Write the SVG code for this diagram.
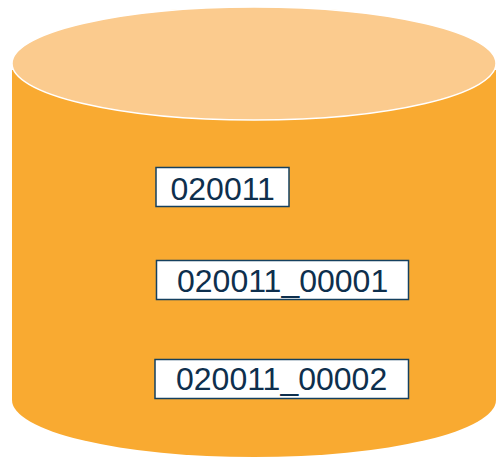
<svg xmlns="http://www.w3.org/2000/svg" width="496" height="458" viewBox="0 0 496 458">
  <style>
    .body { fill: #F9AA31; }
    .lid { fill: #FBCB8E; stroke: #FFFFFF; stroke-width: 1.5; }
    .box { fill: #FFFFFF; stroke: #15405F; stroke-width: 1.5; }
    .label { font-family: "Liberation Sans", Arial, sans-serif; font-size: 32px; fill: #0E2F4D; }
  </style>
  <g id="cylinder">
    <path class="body" d="M12 70 L12 400 A242 57 0 0 0 496 400 L496 70 Z"/>
    <ellipse class="lid" cx="254" cy="63.5" rx="242" ry="56.5"/>
  </g>
  <g id="connectors"/>
  <g id="node-020011">
    <rect class="box" x="156" y="167.5" width="133" height="39"/>
    <text class="label" x="170.5" y="199.5">020011</text>
  </g>
  <g id="node-020011_00001">
    <rect class="box" x="156.5" y="260.5" width="252" height="39"/>
    <text class="label" x="177" y="292">020011_00001</text>
  </g>
  <g id="node-020011_00002">
    <rect class="box" x="155" y="359.5" width="253.5" height="39"/>
    <text class="label" x="176" y="390">020011_00002</text>
  </g>
</svg>
